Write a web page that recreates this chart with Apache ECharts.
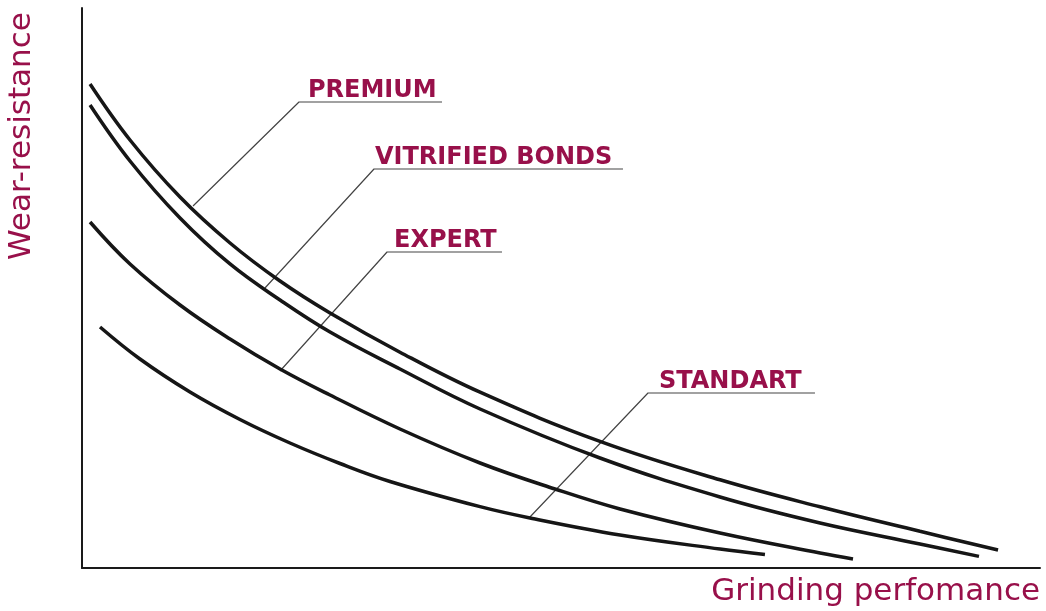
<!DOCTYPE html>
<html>
<head>
<meta charset="utf-8">
<title>Wear-resistance / Grinding perfomance</title>
<script src="https://cdn.jsdelivr.net/npm/echarts@6/dist/echarts.min.js"></script>
<style>
    html, body {margin: 0; padding: 0; background: #fff;}
    #chart {width: 1046px; height: 611px;}
</style>
</head>
<body>
<div id="chart"></div>
<script>
// x = grinding performance, y = wear-resistance, both on a 0-100 scale
var premium = [[0.84, 86.43], [5.01, 76.43], [10.23, 66.25], [15.45, 58.04], [20.67, 51.25], [25.89, 45.54],
    [33.19, 38.54], [41.55, 31.39], [54.07, 22.61], [66.6, 15.75], [77.04, 10.93], [87.47, 6.55], [95.62, 3.21]];
var vitrified = [[0.84, 82.68], [5.01, 72.68], [10.23, 62.5], [15.45, 54.29], [20.67, 47.86], [25.89, 42.14],
    [33.19, 35.54], [41.55, 28.39], [54.07, 19.64], [66.6, 12.68], [77.04, 8.04], [87.47, 4.29], [93.63, 2.07]];
var expert = [[0.84, 61.79], [5.01, 54.29], [10.23, 46.96], [15.45, 40.89], [20.67, 35.54], [25.89, 30.89],
    [33.19, 24.82], [41.55, 18.75], [49.37, 14.11], [56.16, 10.54], [66.6, 6.25], [77.04, 2.68], [80.48, 1.61]];
var standart = [[1.88, 43.04], [6.05, 37.32], [11.27, 31.43], [16.49, 26.52], [21.71, 22.32], [26.93, 18.66],
    [32.15, 15.45], [41.55, 10.95], [46.76, 8.93], [56.16, 5.89], [66.6, 3.39], [71.29, 2.43]];

var names = ['PREMIUM', 'VITRIFIED BONDS', 'EXPERT', 'STANDART'];
// leader: point on curve -> knee -> end of underline
var leaders = [
    [[11.59, 64.64], [22.65, 83.21], [37.58, 83.21]],
    [[19.1, 50.0], [30.48, 71.25], [56.47, 71.25]],
    [[20.67, 35.18], [31.84, 56.43], [43.84, 56.43]],
    [[46.76, 9.11], [59.08, 31.25], [76.51, 31.25]]
];
// where each label text starts (sits on its underline)
var labelAt = [[23.59, 83.21], [30.58, 71.25], [32.57, 56.43], [60.23, 31.25]];

var xTitle = 'Grinding perfomance', yTitle = 'Wear-resistance';
var red = '#98104a';

var series = [];
leaders.forEach(function (d) {
    series.push({
        type: 'line', data: d, smooth: false, showSymbol: false, silent: true,
        lineStyle: {color: '#444', width: 1.2}, z: 1
    });
});
[premium, vitrified, expert, standart].forEach(function (d, i) {
    series.push({
        name: names[i], type: 'line', data: d, smooth: 0.4, showSymbol: false, silent: true,
        lineStyle: {color: '#161616', width: 3.5}, z: 2
    });
});

var axisCommon = {
    type: 'value', min: 0, max: 100,
    axisLine: {show: true, lineStyle: {color: '#1a1a1a', width: 2}},
    axisTick: {show: false}, axisLabel: {show: false}, splitLine: {show: false}
};

var chart = echarts.init(document.getElementById('chart'));
chart.setOption({
    animation: false,
    grid: {left: 82, right: 6, top: 8, bottom: 43},
    xAxis: axisCommon,
    yAxis: axisCommon,
    series: series
});

var graphic = names.map(function (name, i) {
    var p = chart.convertToPixel({gridIndex: 0}, labelAt[i]);
    return {
        type: 'text', x: p[0], y: p[1] - 11, silent: true,
        style: {text: name, fill: red, font: 'bold 24px "DejaVu Sans"', align: 'left', verticalAlign: 'middle'}
    };
});
var end = chart.convertToPixel({gridIndex: 0}, [100, 0]);
graphic.push({
    type: 'text', x: end[0], y: end[1] + 24, silent: true,
    style: {text: xTitle, fill: red, font: '31px "DejaVu Sans"', align: 'right', verticalAlign: 'middle'}
});
graphic.push({
    type: 'text', x: 22, y: 260, rotation: Math.PI / 2, silent: true,
    style: {text: yTitle, fill: red, font: '31px "DejaVu Sans"', align: 'left', verticalAlign: 'middle'}
});
chart.setOption({graphic: graphic});
</script>
</body>
</html>
